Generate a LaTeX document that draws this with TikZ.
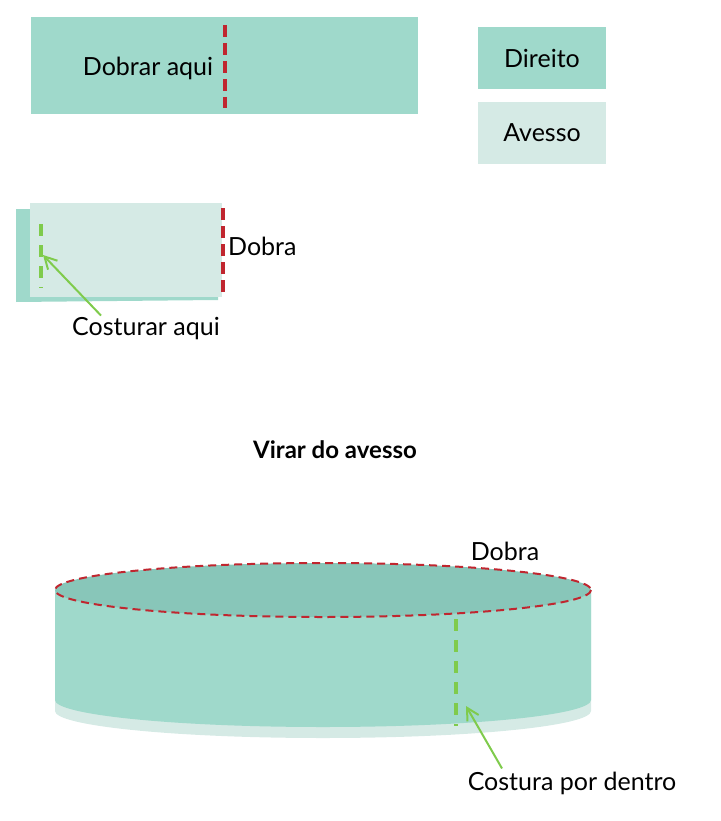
\documentclass[tikz,border=0pt]{standalone}
\usepackage{fontspec}
\setmainfont{Lato}
\usetikzlibrary{arrows.meta}
\definecolor{direito}{HTML}{9FD9CB}
\definecolor{avesso}{HTML}{D5EAE5}
\definecolor{topo}{HTML}{88C6B9}
\definecolor{dobra}{HTML}{C0262F}
\definecolor{costura}{HTML}{7FCB4C}
\tikzset{
  dobraline/.style={dobra,line width=3.5pt,dash pattern=on 12pt off 6pt},
  costuraline/.style={costura,line width=3.5pt,dash pattern=on 12pt off 9pt},
  seta/.style={costura,line width=2pt,-{Straight Barb[length=12pt,width=13pt]}},
  rotulo/.style={font=\fontsize{25}{30}\selectfont,inner sep=0pt}
}
\begin{document}
\begin{tikzpicture}[x=1pt,y=-1pt]
    \useasboundingbox (0,0) rectangle (720,821);

    % Tira aberta
    \fill[direito] (31,17) rectangle (418,114);
    \draw[dobraline] (225,25) -- (225,108);
    \node[rotulo] (aqui) at (148,68) {Dobrar aqui};

    % Legenda
    \fill[direito] (478,27) rectangle (606,89);
    \node[rotulo] (direito) at (542,58) {Direito};
    \fill[avesso] (478,102) rectangle (606,164);
    \node[rotulo] (avesso) at (542,133) {Avesso};

    % Tira dobrada
    \fill[direito] (16,209) -- (30,209) -- (30,296) -- (218,296) -- (218,300) -- (16,302) -- cycle;
    \fill[avesso] (30,203) rectangle (222,297);
    \draw[dobraline] (223,208) -- (223,297);
    \draw[costuraline] (41,224) -- (41,288);
    \node[rotulo,anchor=west] (dobra1) at (228,246) {Dobra};
    \node[rotulo] (costurar) at (146,329) {Costurar aqui};
    \coordinate (costura1) at (43,255);
    \draw[seta] (costurar.north) ++(-45,-2) -- (costura1);

    % Titulo
    \node[rotulo,font=\fontsize{24}{28}\selectfont\bfseries] (virar) at (335,450) {Virar do avesso};

    % Cilindro
    \fill[avesso] (55,590) -- (55,711) arc (180:0:268 and 27) -- (591,590) -- cycle;
    \fill[direito] (55,590) -- (55,700) arc (180:0:268 and 27) -- (591,590) -- cycle;
    \fill[topo] (323,590) ellipse (268 and 27);
    \draw[dobraline,line width=2pt,dash pattern=on 8pt off 5pt] (323,590) ellipse (268 and 27);
    \draw[costuraline] (456,619) -- (456,726);
    \node[rotulo] (dobra2) at (505,551) {Dobra};
    \node[rotulo] (costura2) at (572,783) {Costura por dentro};
    \coordinate (costura2p) at (466,706);
    \draw[seta] (costura2.north) ++(-70,-3) -- (costura2p);
\end{tikzpicture}
\end{document}
